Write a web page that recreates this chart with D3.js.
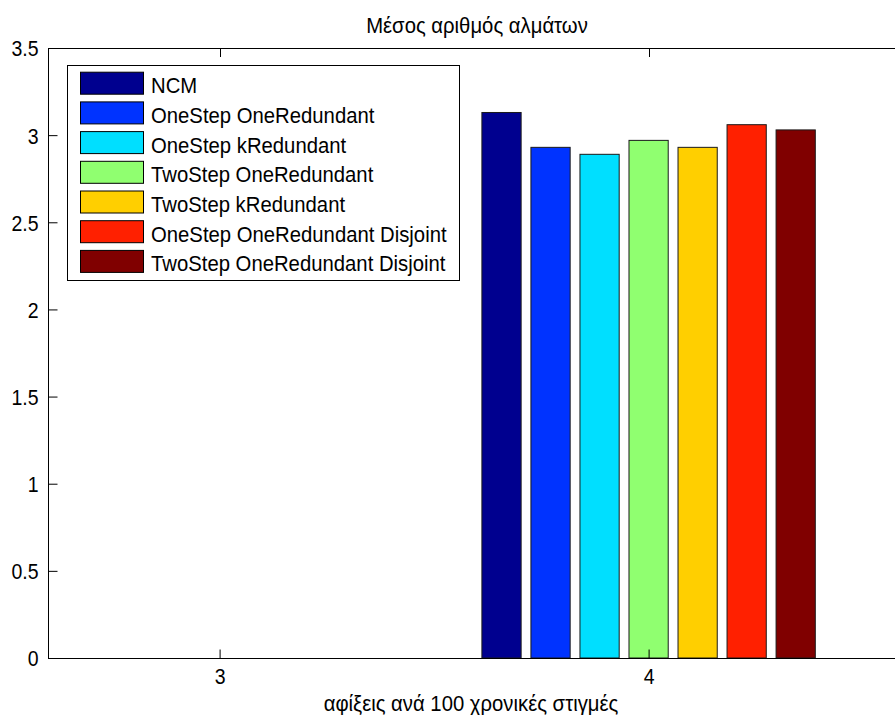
<!DOCTYPE html>
<html>
<head>
<meta charset="utf-8">
<script src="https://cdn.jsdelivr.net/npm/d3@7/dist/d3.min.js"></script>
<style>
  body { margin: 0; background: #ffffff; }
  svg text { font-family: "Liberation Sans", Arial, Helvetica, sans-serif; fill: #000; }
</style>
</head>
<body>
<svg id="chart" width="895" height="715"></svg>
<script>
// Categories on the x axis (arrivals per 100 time steps)
const categories = [3, 4];
const xTicks = [3, 4];
const yTicks = [0, 0.5, 1, 1.5, 2, 2.5, 3, 3.5];

// Series names, as shown in the legend
const seriesNames = [
  "NCM",
  "OneStep OneRedundant",
  "OneStep kRedundant",
  "TwoStep OneRedundant",
  "TwoStep kRedundant",
  "OneStep OneRedundant Disjoint",
  "TwoStep OneRedundant Disjoint"
];

// Mean number of hops per series, one value per category
const ncm                         = [0, 3.13];
const oneStepOneRedundant         = [0, 2.93];
const oneStepKRedundant           = [0, 2.89];
const twoStepOneRedundant         = [0, 2.97];
const twoStepKRedundant           = [0, 2.93];
const oneStepOneRedundantDisjoint = [0, 3.06];
const twoStepOneRedundantDisjoint = [0, 3.03];

const seriesColors = ["#00008f", "#0033ff", "#00dfff", "#90ff70", "#ffcf00", "#ff2000", "#800000"];

const titleText = "Μέσος αριθμός αλμάτων";
const xLabelText = "αφίξεις ανά 100 χρονικές στιγμές";

const seriesValues = [
  ncm, oneStepOneRedundant, oneStepKRedundant, twoStepOneRedundant,
  twoStepKRedundant, oneStepOneRedundantDisjoint, twoStepOneRedundantDisjoint
];

// Layout
const plotLeft = 48, plotRight = 906, plotTop = 48, plotBottom = 658;
const fontSize = 20.3;
const tickFontSize = 19.5;
const stretch = 1.12;    // vertical stretch of the glyphs
const tickLen = 9;

const svg = d3.select("#chart");

const x = d3.scaleLinear().domain([2.6, 4.6]).range([plotLeft, plotRight]);
const y = d3.scaleLinear().domain([0, 3.5]).range([plotBottom, plotTop]);

// Offsets of the bars inside a group, in x-axis units
const offset = d3.scaleBand()
  .domain(d3.range(seriesNames.length))
  .range([-0.4, 0.4])
  .paddingInner(0.2)
  .paddingOuter(0.1);

// Bars
const rows = [];
seriesValues.forEach((vals, s) => {
  vals.forEach((v, c) => rows.push({ s, cat: categories[c], v }));
});

svg.append("g")
  .selectAll("rect")
  .data(rows.filter(d => d.v > 0))
  .join("rect")
  .attr("x", d => x(d.cat + offset(d.s)))
  .attr("width", d => x(d.cat + offset(d.s) + offset.bandwidth()) - x(d.cat + offset(d.s)))
  .attr("y", d => y(d.v))
  .attr("height", d => y(0) - y(d.v))
  .attr("fill", d => seriesColors[d.s])
  .attr("stroke", "#1a1a1a")
  .attr("stroke-width", 1);

// Axes box
const axisColor = "#000";
svg.append("line").attr("x1", plotLeft).attr("x2", plotRight).attr("y1", plotTop + 0.5).attr("y2", plotTop + 0.5)
  .attr("stroke", axisColor);
svg.append("line").attr("x1", plotLeft).attr("x2", plotRight).attr("y1", plotBottom + 0.5).attr("y2", plotBottom + 0.5)
  .attr("stroke", axisColor);
svg.append("line").attr("x1", plotLeft + 0.5).attr("x2", plotLeft + 0.5).attr("y1", plotTop).attr("y2", plotBottom + 1)
  .attr("stroke", axisColor);

// Left axis (ticks point inward)
const yAxis = d3.axisLeft(y)
  .tickValues(yTicks)
  .tickFormat(d => String(d))
  .tickSizeInner(-tickLen)
  .tickSizeOuter(0)
  .tickPadding(10);

const gy = svg.append("g").attr("transform", `translate(${plotLeft + 0.5},0)`).call(yAxis);
gy.select(".domain").remove();
gy.selectAll(".tick line").attr("stroke", axisColor);
gy.selectAll(".tick text")
  .attr("font-size", tickFontSize)
  .attr("dy", "0.36em")
  .attr("transform", `scale(1,${stretch})`);
gy.attr("font-family", null).attr("font-size", null);

// Bottom axis (ticks point inward)
const xAxis = d3.axisBottom(x)
  .tickValues(xTicks)
  .tickFormat(d => String(d))
  .tickSizeInner(-tickLen)
  .tickSizeOuter(0);

const gx = svg.append("g").attr("transform", `translate(0,${plotBottom + 0.5})`).call(xAxis);
gx.select(".domain").remove();
gx.selectAll(".tick line").attr("stroke", axisColor);
gx.selectAll(".tick text")
  .attr("font-size", tickFontSize)
  .attr("y", 0)
  .attr("dy", 0)
  .attr("transform", `translate(0,25) scale(1,${stretch})`);
gx.attr("font-family", null).attr("font-size", null);

// Top axis ticks (inward)
svg.append("g")
  .selectAll("line")
  .data(xTicks)
  .join("line")
  .attr("x1", d => Math.round(x(d)) + 0.5)
  .attr("x2", d => Math.round(x(d)) + 0.5)
  .attr("y1", plotTop)
  .attr("y2", plotTop + tickLen)
  .attr("stroke", axisColor);

// Title
svg.append("text")
  .attr("transform", `translate(${(plotLeft + plotRight) / 2},33) scale(1,${stretch})`)
  .attr("text-anchor", "middle")
  .attr("font-size", fontSize)
  .text(titleText);

// X axis label
svg.append("text")
  .attr("transform", `translate(${(plotLeft + plotRight) / 2 - 6},711) scale(1,${stretch})`)
  .attr("text-anchor", "middle")
  .attr("font-size", fontSize)
  .text(xLabelText);

// Legend
const legend = svg.append("g");
legend.append("rect")
  .attr("x", 67.5).attr("y", 65.5)
  .attr("width", 392).attr("height", 215)
  .attr("fill", "#fff").attr("stroke", "#000");

const rowStep = 29.7, rowTop = 71.7;
const items = legend.selectAll("g.item")
  .data(seriesNames)
  .join("g")
  .attr("class", "item")
  .attr("transform", (d, i) => `translate(0,${rowTop + i * rowStep})`);

items.append("rect")
  .attr("x", 80.5).attr("y", 0.5)
  .attr("width", 63).attr("height", 22)
  .attr("fill", (d, i) => seriesColors[i])
  .attr("stroke", "#000");

items.append("text")
  .attr("transform", `translate(151,21.5) scale(1,${stretch})`)
  .attr("font-size", fontSize)
  .text(d => d);
</script>
</body>
</html>
